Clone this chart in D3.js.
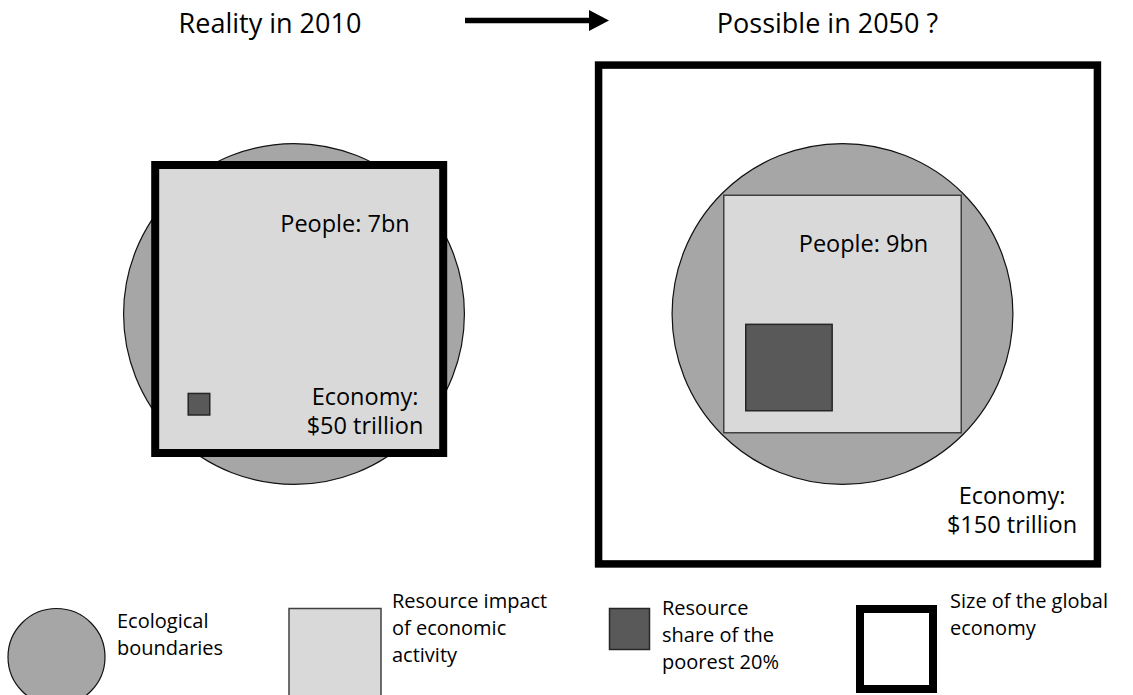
<!DOCTYPE html>
<html>
<head>
    <title>Reality in 2010 vs Possible in 2050</title>
    <script src="https://d3js.org/d3.v7.min.js"></script>
    <style>
        body {
            margin: 0;
            background: #fff;
        }
        svg text {
            font-family: "Open Sans", "DejaVu Sans", sans-serif;
            fill: #000;
        }
    </style>
</head>
<body>
    <div id="chart"></div>
    <script>
        // Data (areas in $ trillion-equivalent units)
        const scenarios = ["Reality in 2010", "Possible in 2050 ?"];
        const people = ["7bn", "9bn"];
        const economy = [50, 150];          // size of the global economy
        const ecoBoundary = [55, 55];       // ecological boundaries
        const resourceImpact = [50, 34];    // resource impact of economic activity
        const poorestShare = [0.28, 4.5];   // resource share of the poorest 20%
        const legendLabels = [
            ["Ecological", "boundaries"],
            ["Resource impact", "of economic", "activity"],
            ["Resource", "share of the", "poorest 20%"],
            ["Size of the global", "economy"]
        ];

        const width = 1133, height = 695;

        // Layout for the two panels
        const panels = [
            {cx: 294, cy: 314, boxX: 299.2, boxY: 309, impX: 299.2, impY: 309, inset: [33, 38],
             titleX: 270, peopleX: 345, peopleY: 231.5, econX: 365, econY: 405},
            {cx: 842.5, cy: 314, boxX: 848, boxY: 314.5, impX: 842.5, impY: 314, inset: [22, 22],
             titleX: 827.5, peopleX: 863.5, peopleY: 251.5, econX: 1012, econY: 504}
        ];

        const side = d3.scaleSqrt().domain([0, 50]).range([0, 288]);
        const radius = v => side(v) / Math.sqrt(Math.PI);

        const svg = d3.select('#chart')
            .append('svg')
            .attr('width', width)
            .attr('height', height);

        // Titles
        svg.selectAll('text.title')
            .data(scenarios)
            .join('text')
            .attr('class', 'title')
            .attr('x', (d, i) => panels[i].titleX)
            .attr('y', 33)
            .attr('text-anchor', 'middle')
            .style('font-size', '27px')
            .text(d => d);

        // Arrow between titles
        svg.append('path')
            .attr('d', 'M465,17.8 L589,17.8 L589,10 L609,20.5 L589,31 L589,23.2 L465,23.2 Z')
            .attr('fill', '#000');

        panels.forEach((p, i) => {
            const g = svg.append('g');
            const boxS = side(economy[i]);
            const impS = side(resourceImpact[i]);
            const poorS = side(poorestShare[i]);

            if (i === 1) {
                // big economy box behind everything
                g.append('rect')
                    .attr('x', p.boxX - boxS / 2)
                    .attr('y', p.boxY - boxS / 2)
                    .attr('width', boxS)
                    .attr('height', boxS)
                    .attr('fill', '#fff')
                    .attr('stroke', '#000')
                    .attr('stroke-width', 7.5);
            }

            g.append('circle')
                .attr('cx', p.cx)
                .attr('cy', p.cy)
                .attr('r', radius(ecoBoundary[i]))
                .attr('fill', '#a6a6a6')
                .attr('stroke', '#111')
                .attr('stroke-width', 1.2);

            g.append('rect')
                .attr('x', p.impX - impS / 2)
                .attr('y', p.impY - impS / 2)
                .attr('width', impS)
                .attr('height', impS)
                .attr('fill', '#d9d9d9')
                .attr('stroke', '#404040')
                .attr('stroke-width', 1.5);

            if (i === 0) {
                g.append('rect')
                    .attr('x', p.boxX - boxS / 2)
                    .attr('y', p.boxY - boxS / 2)
                    .attr('width', boxS)
                    .attr('height', boxS)
                    .attr('fill', 'none')
                    .attr('stroke', '#000')
                    .attr('stroke-width', 8);
            }

            const impLeft = p.impX - impS / 2;
            const impBottom = p.impY + impS / 2;
            g.append('rect')
                .attr('x', impLeft + p.inset[0])
                .attr('y', impBottom - p.inset[1] - poorS)
                .attr('width', poorS)
                .attr('height', poorS)
                .attr('fill', '#595959')
                .attr('stroke', '#262626')
                .attr('stroke-width', 1.5);

            g.append('text')
                .attr('x', p.peopleX)
                .attr('y', p.peopleY)
                .attr('text-anchor', 'middle')
                .style('font-size', '23.5px')
                .text('People: ' + people[i]);

            const econ = g.append('text')
                .attr('text-anchor', 'middle')
                .style('font-size', '23.5px');
            econ.append('tspan')
                .attr('x', p.econX)
                .attr('y', p.econY)
                .text('Economy:');
            econ.append('tspan')
                .attr('x', p.econX)
                .attr('y', p.econY + 29)
                .text('$' + economy[i] + ' trillion');
        });

        // Legend
        const legend = svg.append('g');
        legend.append('circle')
            .attr('cx', 56.5).attr('cy', 657).attr('r', 48.5)
            .attr('fill', '#a6a6a6').attr('stroke', '#111').attr('stroke-width', 1.2);
        legend.append('rect')
            .attr('x', 289).attr('y', 608.5).attr('width', 92).attr('height', 100)
            .attr('fill', '#d9d9d9').attr('stroke', '#404040').attr('stroke-width', 1.5);
        legend.append('rect')
            .attr('x', 609.5).attr('y', 608.5).attr('width', 40).attr('height', 41)
            .attr('fill', '#595959').attr('stroke', '#262626').attr('stroke-width', 1.5);
        legend.append('rect')
            .attr('x', 860).attr('y', 609).attr('width', 73).attr('height', 80)
            .attr('fill', '#fff').attr('stroke', '#000').attr('stroke-width', 8);

        const legendPos = [
            {x: 117, y: 628},
            {x: 392, y: 608},
            {x: 662, y: 615},
            {x: 950, y: 608}
        ];
        legendLabels.forEach((lines, i) => {
            const t = legend.append('text').style('font-size', '20px');
            lines.forEach((line, j) => {
                t.append('tspan')
                    .attr('x', legendPos[i].x)
                    .attr('y', legendPos[i].y + j * 27)
                    .text(line);
            });
        });
    </script>
</body>
</html>
